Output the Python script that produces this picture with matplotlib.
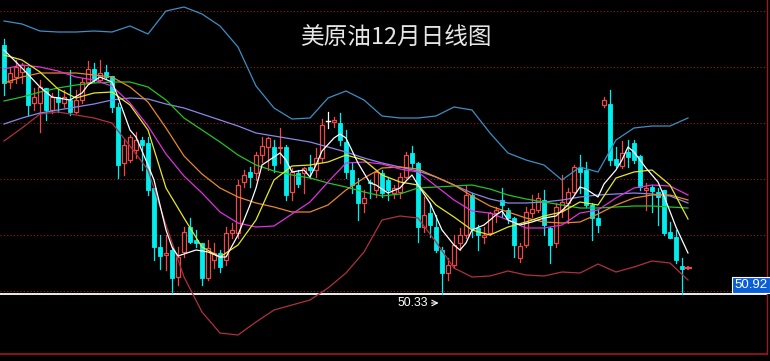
import matplotlib
matplotlib.use('Agg')
import matplotlib.pyplot as plt
from matplotlib.patches import Rectangle

# 日K线数据 (开, 收, 高, 低)
opens = [55.31, 54.57, 54.67, 54.77, 54.85, 54.15, 54.15, 54.45, 54.01, 54.27,
         54.15, 54.21, 53.97, 54.21, 54.57, 54.83, 54.61, 54.77, 54.69, 54.07,
         52.95, 53.01, 53.21, 53.41, 53.35, 52.45, 51.27, 51.11, 51.21, 50.67,
         51.17, 51.67, 51.41, 51.35, 50.65, 51.01, 51.15, 51.01, 51.55, 51.55,
         52.57, 52.77, 52.75, 53.11, 53.27, 53.27, 53.25, 53.27, 52.37, 52.75,
         52.75, 52.87, 52.81, 53.05, 53.79, 53.77, 53.75, 53.37, 52.81, 52.51,
         52.15, 52.57, 52.41, 52.75, 52.61, 52.35, 52.37, 52.67, 53.15, 52.95,
         51.67, 51.95, 51.67, 51.21, 50.75, 50.91, 51.35, 51.51, 52.31, 51.65,
         51.47, 51.55, 51.95, 52.21, 52.01, 51.85, 51.05, 51.31, 51.95, 52.01,
         52.21, 51.65, 51.35, 52.01, 52.15, 52.37, 52.85, 52.81, 52.11, 51.85,
         54.11, 54.13, 53.03, 52.89, 53.17, 53.35, 53.09, 52.41, 52.47, 52.37,
         52.41, 51.57, 51.47, 50.89]
closes = [54.55, 54.75, 54.87, 54.91, 54.11, 54.27, 54.47, 54.01, 54.27, 54.17,
          54.27, 53.97, 54.21, 54.57, 54.83, 54.61, 54.75, 54.67, 54.07, 52.91,
          53.31, 53.47, 53.41, 53.31, 52.41, 51.27, 51.09, 51.15, 50.65, 51.07,
          51.57, 51.37, 51.35, 50.65, 51.25, 51.15, 50.87, 51.55, 51.61, 52.51,
          52.71, 52.67, 53.11, 53.29, 53.45, 52.91, 53.27, 52.31, 52.77, 52.53,
          52.85, 52.81, 53.05, 53.71, 53.79, 53.81, 53.41, 52.77, 52.51, 52.15,
          52.25, 52.55, 52.77, 52.35, 52.41, 52.45, 52.67, 53.11, 52.95, 51.67,
          51.91, 51.71, 51.21, 50.75, 50.91, 51.31, 51.51, 52.31, 51.65, 51.51,
          51.51, 51.95, 52.01, 52.11, 51.85, 51.31, 51.29, 51.97, 52.03, 52.25,
          51.71, 51.31, 52.07, 52.17, 52.37, 52.87, 52.77, 52.11, 51.85, 51.71,
          54.21, 53.01, 52.91, 53.15, 53.07, 53.01, 52.47, 52.45, 52.39, 52.27,
          51.55, 51.45, 51.01, 50.83]
highs = [55.43, 54.85, 55.01, 54.95, 54.87, 54.45, 54.61, 54.45, 54.35, 54.41,
         54.41, 54.81, 54.41, 54.65, 54.99, 54.95, 55.01, 54.91, 54.69, 54.15,
         53.41, 53.51, 53.57, 53.47, 53.47, 52.45, 51.51, 51.51, 51.27, 51.27,
         51.67, 51.85, 51.61, 51.35, 51.41, 51.35, 51.21, 51.67, 51.75, 52.61,
         52.81, 52.87, 53.17, 53.47, 53.47, 53.41, 53.65, 53.31, 52.85, 52.81,
         52.87, 53.11, 53.25, 53.83, 53.97, 53.87, 53.95, 53.61, 52.95, 52.65,
         52.41, 52.61, 52.81, 52.81, 52.67, 52.51, 52.75, 53.17, 53.29, 52.97,
         52.27, 52.15, 51.91, 51.27, 51.05, 51.51, 51.65, 52.51, 52.35, 51.71,
         51.67, 51.97, 52.07, 52.45, 52.05, 51.87, 51.35, 52.07, 52.31, 52.35,
         52.41, 51.67, 52.15, 52.71, 52.45, 52.91, 53.11, 52.97, 52.15, 52.01,
         54.27, 54.41, 53.27, 53.39, 53.41, 53.41, 53.11, 52.55, 52.51, 52.45,
         52.41, 51.77, 51.61, 51.05]
lows = [54.31, 54.45, 54.55, 54.55, 53.91, 54.01, 53.57, 53.81, 53.95, 53.97,
        54.07, 53.91, 53.95, 54.15, 54.55, 54.57, 54.57, 54.65, 53.97, 52.65,
        52.71, 52.97, 53.05, 52.81, 52.31, 51.01, 50.83, 50.81, 50.35, 50.51,
        51.07, 51.35, 51.27, 50.51, 50.61, 50.85, 50.77, 50.91, 51.45, 51.45,
        52.47, 52.47, 52.61, 52.97, 52.81, 52.77, 52.95, 52.21, 52.21, 52.47,
        52.35, 52.65, 52.67, 52.97, 53.65, 53.67, 53.31, 52.65, 52.35, 51.81,
        51.97, 52.25, 52.27, 52.27, 52.21, 52.25, 52.25, 52.65, 52.87, 51.37,
        51.57, 51.47, 51.17, 50.33, 50.61, 50.85, 51.21, 51.45, 51.47, 51.21,
        51.35, 51.51, 51.77, 51.87, 51.75, 51.07, 50.97, 51.27, 51.87, 51.97,
        51.51, 50.95, 51.27, 51.87, 51.75, 52.35, 52.35, 52.07, 51.41, 51.57,
        54.07, 52.91, 52.87, 52.85, 52.87, 52.95, 52.41, 52.01, 51.97, 51.71,
        51.51, 51.45, 50.95, 50.34]

# 均线与布林带 (每3根K线读一个点)
ma_idx = list(range(0, 115, 3))
boll_up = [55.79, 55.73, 55.59, 55.57, 55.57, 55.59, 55.57, 55.69, 55.53, 55.99,
           56.07, 55.93, 55.69, 55.27, 54.49, 54.05, 53.83, 53.85, 54.25, 54.39,
           54.21, 53.89, 53.85, 53.85, 53.89, 54.07, 54.01, 53.55, 53.15, 53.01,
           52.91, 52.61, 52.87, 52.77, 53.41, 53.65, 53.69, 53.69, 53.85]
boll_dn = [53.39, 53.65, 53.93, 53.97, 53.91, 53.85, 53.75, 53.29, 52.81, 51.71,
           50.67, 49.97, 49.55, 49.51, 49.77, 50.01, 50.11, 50.21, 50.45, 50.75,
           51.17, 51.81, 51.89, 51.85, 51.37, 50.85, 50.67, 50.69, 50.79, 50.71,
           50.69, 50.77, 50.75, 50.93, 50.77, 50.87, 50.99, 50.95, 50.61]
ma10 = [55.11, 55.01, 54.77, 54.43, 54.25, 54.35, 54.37, 54.11, 53.61, 52.45,
        51.85, 51.27, 51.07, 51.31, 51.81, 52.61, 52.89, 52.91, 52.97, 53.11,
        53.01, 52.71, 52.57, 52.51, 52.11, 51.87, 51.61, 51.51, 51.67, 51.77,
        51.89, 51.97, 52.17, 52.11, 52.65, 52.77, 52.81, 52.51, 51.83]
ma20 = [54.83, 54.91, 54.87, 54.79, 54.67, 54.61, 54.49, 54.15, 53.69, 53.13,
        52.69, 52.35, 51.97, 51.75, 51.67, 51.69, 51.93, 52.17, 52.57, 52.95,
        52.97, 52.93, 52.83, 52.77, 52.49, 52.21, 51.99, 51.95, 51.81, 51.65,
        51.65, 51.71, 51.95, 52.01, 52.25, 52.45, 52.51, 52.49, 52.31]
ma30 = [54.55, 54.67, 54.75, 54.75, 54.75, 54.71, 54.67, 54.47, 54.17, 53.65,
        53.09, 52.73, 52.45, 52.27, 52.15, 52.07, 51.97, 51.97, 52.11, 52.41,
        52.65, 52.85, 52.87, 52.83, 52.67, 52.51, 52.29, 52.09, 51.97, 51.85,
        51.77, 51.75, 51.77, 51.93, 52.11, 52.25, 52.31, 52.31, 52.21]
ma60 = [54.19, 54.27, 54.37, 54.45, 54.51, 54.55, 54.57, 54.57, 54.47, 54.21,
        53.85, 53.61, 53.37, 53.11, 52.91, 52.79, 52.71, 52.65, 52.55, 52.47,
        52.37, 52.29, 52.33, 52.45, 52.47, 52.49, 52.51, 52.43, 52.31, 52.23,
        52.17, 52.11, 52.05, 52.05, 52.07, 52.09, 52.09, 52.07, 52.05]
ma120 = [53.73, 53.85, 53.95, 54.01, 54.07, 54.13, 54.21, 54.25, 54.23, 54.13,
         54.05, 53.93, 53.81, 53.69, 53.55, 53.49, 53.43, 53.37, 53.27, 53.17,
         53.05, 52.95, 52.87, 52.79, 52.67, 52.51, 52.35, 52.23, 52.15, 52.15,
         52.17, 52.21, 52.27, 52.31, 52.33, 52.35, 52.33, 52.29, 52.15]

# 5日线 (白线)
ma5_idx = [0, 3, 6, 8, 11, 13, 14, 16, 18, 19, 21, 22, 24, 25, 27, 28, 29, 30, 32, 34,
           36, 37, 39, 41, 42, 43, 45, 46, 47, 48, 50, 51, 52, 53, 55, 56, 57, 59, 60, 61,
           62, 64, 66, 67, 68, 69, 71, 73, 75, 76, 77, 78, 80, 82, 83, 84, 86, 88, 90, 92,
           94, 96, 97, 99, 100, 102, 103, 104, 105, 107, 109, 110, 112, 114]
ma5 = [55.21, 54.85, 54.47, 54.27, 54.21, 54.35, 54.51, 54.67, 54.57, 54.27,
       53.61, 53.47, 52.91, 52.61, 51.61, 51.27, 51.09, 51.13, 51.21, 51.17,
       51.07, 51.07, 51.51, 52.11, 52.45, 52.91, 53.07, 53.15, 53.01, 52.77,
       52.81, 52.67, 52.91, 53.19, 53.45, 53.53, 53.45, 52.95, 52.75, 52.55,
       52.51, 52.35, 52.45, 52.59, 52.71, 52.51, 52.15, 51.61, 51.31, 51.21,
       51.35, 51.61, 51.71, 51.91, 51.99, 51.81, 51.71, 51.77, 51.85, 51.89,
       52.11, 52.47, 52.43, 52.27, 52.53, 52.81, 53.01, 53.27, 53.17, 52.85,
       52.57, 52.29, 51.67, 51.15]

grid_levels = [55.99, 54.87, 53.75, 52.63, 51.51, 50.39]
low_price = 50.33
low_idx = 73
last_price = 50.92
last_mark = 50.85

red = '#f04848'
cyan = '#00eeee'

fig = plt.figure(figsize=(7.7, 3.61), dpi=100, facecolor='black')
ax = fig.add_axes([0, 7 / 361, 767 / 770, 354 / 361])
ax.set_facecolor('black')
ax.set_xlim(-0.667, 127.17)
ax.set_ylim(49.13, 56.21)
ax.set_xticks([])
ax.set_yticks([])
for s in ['top', 'left']:
    ax.spines[s].set_visible(False)
ax.spines['bottom'].set_color('#a01818')
ax.spines['bottom'].set_linewidth(1.2)
ax.spines['right'].set_color('#a01818')
ax.spines['right'].set_linewidth(1.0)

for g in grid_levels:
    ax.axhline(g, color='#9a1c1c', lw=0.8, ls=(0, (1, 2)), zorder=1)

ax.axhline(low_price, color='white', lw=1.3, zorder=1)

w = 0.74
for i in range(len(opens)):
    o, c, h, l = opens[i], closes[i], highs[i], lows[i]
    if c > o:
        ax.plot([i, i], [c, h], color=red, lw=0.9, zorder=3)
        ax.plot([i, i], [l, o], color=red, lw=0.9, zorder=3)
        ax.add_patch(Rectangle((i - w / 2, o), w, c - o, facecolor='black',
                               edgecolor=red, lw=0.9, zorder=3))
    elif c < o:
        ax.plot([i, i], [l, h], color=cyan, lw=0.9, zorder=3)
        ax.add_patch(Rectangle((i - w / 2, c), w, o - c, facecolor=cyan,
                               edgecolor=cyan, lw=0.6, zorder=3))
    else:
        ax.plot([i, i], [l, h], color='white', lw=0.9, zorder=3)
        ax.plot([i - w / 2, i + w / 2], [o, o], color='white', lw=1.0, zorder=3)

ax.plot(ma_idx, boll_up, color='#3d8fc4', lw=0.9, zorder=4)
ax.plot(ma_idx, boll_dn, color='#b03040', lw=0.9, zorder=4)
ax.plot(ma_idx, ma120, color='#8a86e8', lw=0.9, zorder=4)
ax.plot(ma_idx, ma60, color='#22c422', lw=0.9, zorder=4)
ax.plot(ma_idx, ma30, color='#e8882a', lw=0.9, zorder=4)
ax.plot(ma_idx, ma20, color='#e030e0', lw=0.9, zorder=4)
ax.plot(ma_idx, ma10, color='#e8e820', lw=0.9, zorder=4)
ax.plot(ma5_idx, ma5, color='white', lw=0.9, zorder=5)

# 最新价标记
ax.plot([len(opens)], [last_mark], marker='_', color=red, ms=6, mew=1.6, zorder=5)
ax.plot([len(opens)], [last_mark], marker='|', color=red, ms=3, mew=1.2, zorder=5)

# 最低价标注
ax.annotate('', xy=(low_idx - 0.1, low_price - 0.18), xytext=(low_idx - 2.2, low_price - 0.18),
            arrowprops=dict(arrowstyle='->', color='white', lw=0.8), zorder=6)
ax.text(low_idx - 2.3, low_price - 0.18, f'{low_price:.2f}', color='white', fontsize=8.8,
        family='Liberation Sans', ha='right', va='center', zorder=6)

fig.text(397 / 770, 1 - 38 / 361, '美原油12月日线图', color='#e6e6e6', fontsize=17,
         family=['Noto Sans CJK SC', 'DejaVu Sans'], ha='center', va='center')

fig.text(751 / 770, 1 - 285 / 361, f'{last_price:.2f}', color='white', fontsize=9.5,
         family='Liberation Sans', ha='center', va='center',
         bbox=dict(boxstyle='square,pad=0.15', facecolor='#0a5ed6', edgecolor='white', lw=0.8))

fig.savefig('out.png', dpi=100, facecolor='black')
